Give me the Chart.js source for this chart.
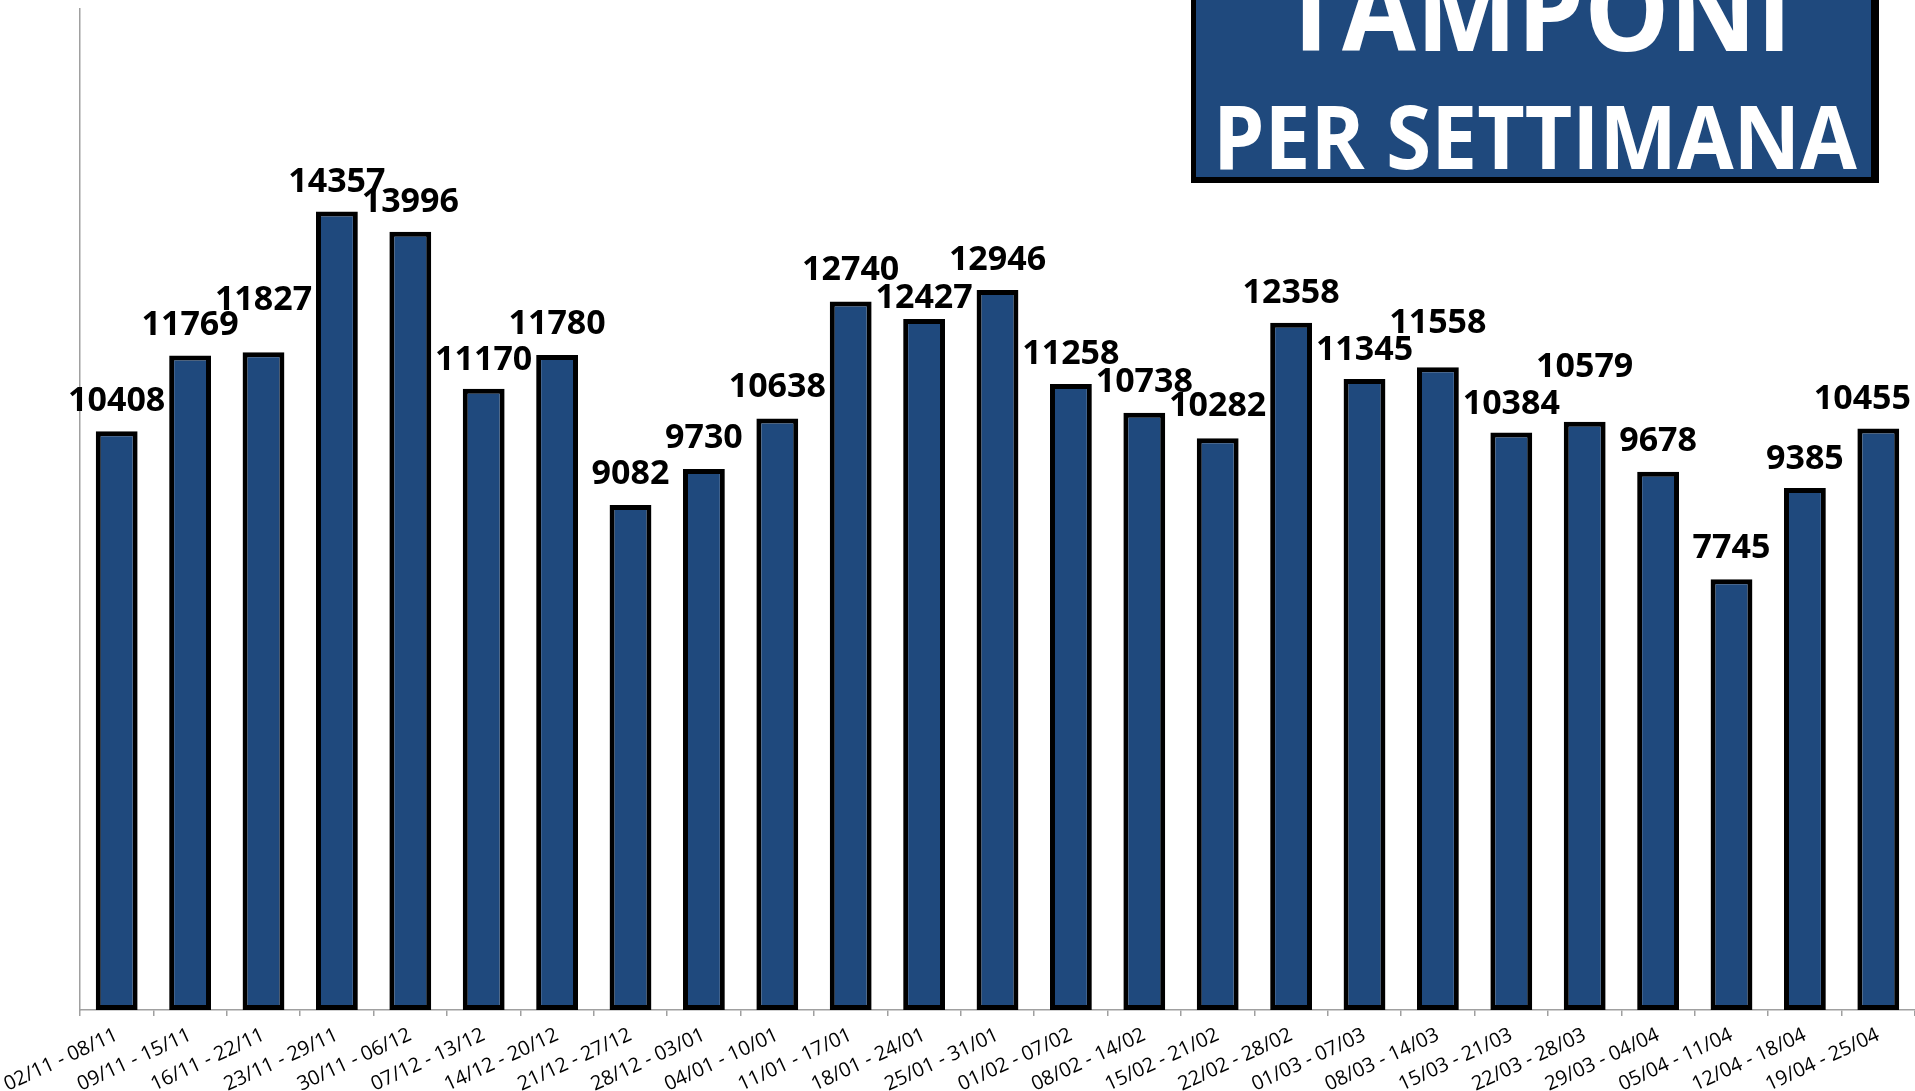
<!DOCTYPE html>
<html>
<head>
<meta charset="utf-8">
<script src="https://cdn.jsdelivr.net/npm/chart.js@4/dist/chart.umd.min.js"></script>
<style>
  body { margin: 0; background: #fff; }
  #wrap { width: 1915px; height: 1091px; }
</style>
</head>
<body>
<div id="wrap"><canvas id="myChart" width="1915" height="1091"></canvas></div>
<script>
'use strict'
let weeks = ['02/11 - 08/11', '09/11 - 15/11', '16/11 - 22/11', '23/11 - 29/11', '30/11 - 06/12',
  '07/12 - 13/12', '14/12 - 20/12', '21/12 - 27/12', '28/12 - 03/01', '04/01 - 10/01',
  '11/01 - 17/01', '18/01 - 24/01', '25/01 - 31/01', '01/02 - 07/02', '08/02 - 14/02',
  '15/02 - 21/02', '22/02 - 28/02', '01/03 - 07/03', '08/03 - 14/03', '15/03 - 21/03',
  '22/03 - 28/03', '29/03 - 04/04', '05/04 - 11/04', '12/04 - 18/04', '19/04 - 25/04'];
let tamponi = [10408, 11769, 11827, 14357, 13996, 11170, 11780, 9082, 9730, 10638,
  12740, 12427, 12946, 11258, 10738, 10282, 12358, 11345, 11558, 10384,
  10579, 9678, 7745, 9385, 10455];
let titleLines = ['TAMPONI', 'PER SETTIMANA'];

// how far above the bar each value label sits (px)
let labelLift = [20, 21, 42, 20, 20, 19, 21, 21, 21, 21, 22, 11, 20, 20, 21,
  22, 20, 19, 34, 19, 45, 21, 21, 19, 20];

const blue = '#1F497D';
const axisGray = '#A0A0A0';

// value labels above the bars
const valueLabels = {
  id: 'valueLabels',
  afterDatasetsDraw(chart) {
    let ctx = chart.ctx;
    let bars = chart.getDatasetMeta(0).data;
    ctx.save();
    ctx.font = 'bold 34px "Open Sans"';
    ctx.fillStyle = '#000';
    ctx.textAlign = 'center';
    ctx.textBaseline = 'alphabetic';
    for (let i = 0; i < bars.length; i++) {
      let txt = String(tamponi[i]);
      let half = ctx.measureText(txt).width / 2;
      // keep the label inside the picture like excel does
      let x = Math.min(bars[i].x, chart.width - 4 - half);
      ctx.fillText(txt, x, bars[i].y - labelLift[i]);
    }
    ctx.restore();
  }
};

// title box in the top right corner
const titleBox = {
  id: 'titleBox',
  afterDraw(chart) {
    let ctx = chart.ctx;
    ctx.save();
    ctx.fillStyle = '#000';
    ctx.fillRect(1191, -10, 688, 193);
    ctx.fillStyle = blue;
    ctx.fillRect(1196, -10, 675, 187);
    ctx.fillStyle = '#fff';
    ctx.textAlign = 'center';
    ctx.textBaseline = 'alphabetic';
    ctx.font = 'bold 114px "Open Sans"';
    ctx.fillText(titleLines[0], 1536, 51, 512);
    ctx.font = 'bold 87px "Open Sans"';
    ctx.fillText(titleLines[1], 1535, 169, 644);
    ctx.restore();
  }
};

var ctx = document.getElementById('myChart').getContext('2d');
var myChart = new Chart(ctx, {
  type: 'bar',
  data: {
    labels: weeks,
    datasets: [{
      label: 'Tamponi',
      data: tamponi,
      backgroundColor: blue,
      borderColor: '#000',
      borderWidth: 5,
      borderSkipped: false,
      categoryPercentage: 1,
      barPercentage: 0.57
    }]
  },
  options: {
    responsive: false,
    animation: false,
    layout: { padding: { top: 9, right: 0, left: 0, bottom: 0 } },
    plugins: {
      legend: { display: false },
      tooltip: { enabled: false }
    },
    scales: {
      x: {
        grid: {
          drawOnChartArea: false,
          drawTicks: true,
          tickLength: 6,
          color: axisGray,
          lineWidth: 1.5
        },
        border: { display: true, color: axisGray, width: 1.5 },
        ticks: {
          color: '#000',
          font: { family: 'Open Sans', size: 20 },
          minRotation: 25,
          maxRotation: 25,
          autoSkip: false,
          padding: 7
        },
        afterFit(scale) {
          scale.height = 81;
          scale.paddingLeft = 0;
          scale.paddingRight = 0;
        }
      },
      y: {
        min: 0,
        max: 18000,
        grid: { display: false },
        border: { display: true, color: axisGray, width: 1.5 },
        ticks: { display: false },
        afterFit(scale) { scale.width = 80; }
      }
    }
  },
  plugins: [valueLabels, titleBox]
});
</script>
</body>
</html>
